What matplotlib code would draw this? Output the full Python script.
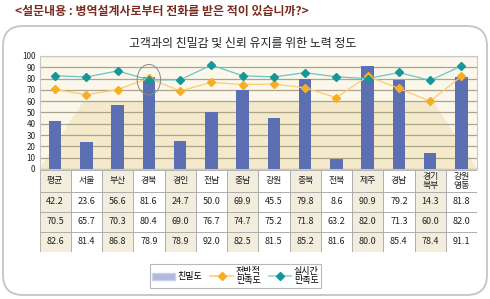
import matplotlib
matplotlib.use('Agg')
import matplotlib.pyplot as plt
from matplotlib.patches import FancyBboxPatch, Ellipse, Polygon, Rectangle, Patch
from matplotlib.lines import Line2D

plt.rcParams['font.family'] = ['Noto Sans CJK KR', 'DejaVu Sans']

# 데이터
regions = ['평균', '서울', '부산', '경북', '경인', '전남', '충남', '강원',
           '충북', '전북', '제주', '경남', '경기\n북부', '강원\n영동']
intimacy = [42.2, 23.6, 56.6, 81.6, 24.7, 50.0, 69.9, 45.5, 79.8, 8.6, 90.9, 79.2, 14.3, 81.8]
overall = [70.5, 65.7, 70.3, 80.4, 69.0, 76.7, 74.7, 75.2, 71.8, 63.2, 82.0, 71.3, 60.0, 82.0]
realtime = [82.6, 81.4, 86.8, 78.9, 78.9, 92.0, 82.5, 81.5, 85.2, 81.6, 80.0, 85.4, 78.4, 91.1]
series_names = ['친밀도', '전반적\n만족도', '실시간\n만족도']

W, H = 490, 299
fig = plt.figure(figsize=(W / 100, H / 100), dpi=100)

def box(x0, y0, x1, y1):
    # 픽셀 좌표(위에서부터) -> figure 좌표
    return [x0 / W, 1 - y1 / H, (x1 - x0) / W, (y1 - y0) / H]

# 배경 / 외곽 프레임
bg = fig.add_axes([0, 0, 1, 1])
bg.set_xlim(0, W)
bg.set_ylim(H, 0)
bg.axis('off')
bg.add_patch(FancyBboxPatch((3, 26), 484, 269, boxstyle='round,pad=0,rounding_size=20',
                            facecolor='white', edgecolor='#C4C4C4', linewidth=1.3))
bg.text(15, 11, '<설문내용 : 병역설계사로부터 전화를 받은 적이 있습니까?>',
        fontsize=8.6, fontweight='bold', color='#7A2A1E', va='center', ha='left')
bg.text(243, 43, '고객과의 친밀감 및 신뢰 유지를 위한 노력 정도',
        fontsize=8.6, color='#222222', va='center', ha='center')

n = len(regions)
x = list(range(n))

# 그래프 영역
ax = fig.add_axes(box(39.5, 56, 477, 169))
ax.set_xlim(-0.5, n - 0.5)
ax.set_ylim(0, 100)
ax.set_facecolor('#FBF7EA')
ax.add_patch(Polygon([(-0.5, 0), (0.9, 60), (12.1, 60), (13.5, 0)],
                     closed=True, facecolor='#F4EACB', edgecolor='none', zorder=0))
ax.set_yticks(range(0, 101, 10))
ax.set_xticks([])
ax.grid(axis='y', color='#ABA38C', linewidth=0.9, zorder=1)
ax.tick_params(axis='y', length=0, labelsize=5.8, pad=3, colors='#222222')
for s in ax.spines.values():
    s.set_color('#C8C8C8')
    s.set_linewidth(0.8)

ax.bar(x, intimacy, width=0.4, color='#5B6FB2', zorder=3)
ax.plot(x, overall, color='#FFCB6B', linewidth=0.9, marker='D', markersize=3.6,
        markerfacecolor='#F7AE22', markeredgecolor='#F7AE22', zorder=4)
ax.plot(x, realtime, color='#6BC4C6', linewidth=0.9, marker='D', markersize=3.6,
        markerfacecolor='#14969A', markeredgecolor='#14969A', zorder=5)

# 경북 강조 표시
ax.add_patch(Ellipse((3, 79), 0.75, 27, facecolor='none', edgecolor='#8A8A8A',
                     linewidth=0.7, zorder=6))

# 표
tab = fig.add_axes(box(39.5, 170, 477, 252))
tab.set_xlim(-0.5, n - 0.5)
tab.set_ylim(4, 0)
tab.axis('off')
row_edges = [0, 1.07, 2.05, 3.02, 4]
rows = [regions,
        ['%.1f' % v for v in intimacy],
        ['%.1f' % v for v in overall],
        ['%.1f' % v for v in realtime]]
for i in range(n):
    fc = '#F3EDDE' if i % 2 == 0 else 'white'
    for r in range(4):
        y0, y1 = row_edges[r], row_edges[r + 1]
        tab.add_patch(Rectangle((i - 0.5, y0), 1, y1 - y0, facecolor=fc,
                                edgecolor='#A8A8A8', linewidth=0.6))
        fs = 6.4 if r == 0 else 6.5
        tab.text(i, (y0 + y1) / 2, rows[r][i], ha='center', va='center',
                 fontsize=fs, color='#222222', linespacing=1.0)

# 범례
handles = [Patch(facecolor='#AFB9DB', edgecolor='#C9D0E8'),
           Line2D([], [], color='#FFD690', linewidth=1.5, marker='D', markersize=4,
                  markerfacecolor='#F7AE22', markeredgecolor='#F7AE22'),
           Line2D([], [], color='#A8DCDC', linewidth=1.5, marker='D', markersize=4,
                  markerfacecolor='#14969A', markeredgecolor='#14969A')]
leg = fig.legend(handles, series_names, ncol=3, loc='center',
                 bbox_to_anchor=(235.5 / W, 1 - 276 / H), fontsize=6.5,
                 frameon=True, fancybox=False, edgecolor='#A8A8A8',
                 handlelength=2.5, handletextpad=0.3, columnspacing=0.9,
                 borderpad=0.3, labelspacing=0.2)
leg.get_frame().set_linewidth(0.8)
for t in leg.get_texts():
    t.set_linespacing(0.95)

fig.savefig('out.png', dpi=100, facecolor='white')
